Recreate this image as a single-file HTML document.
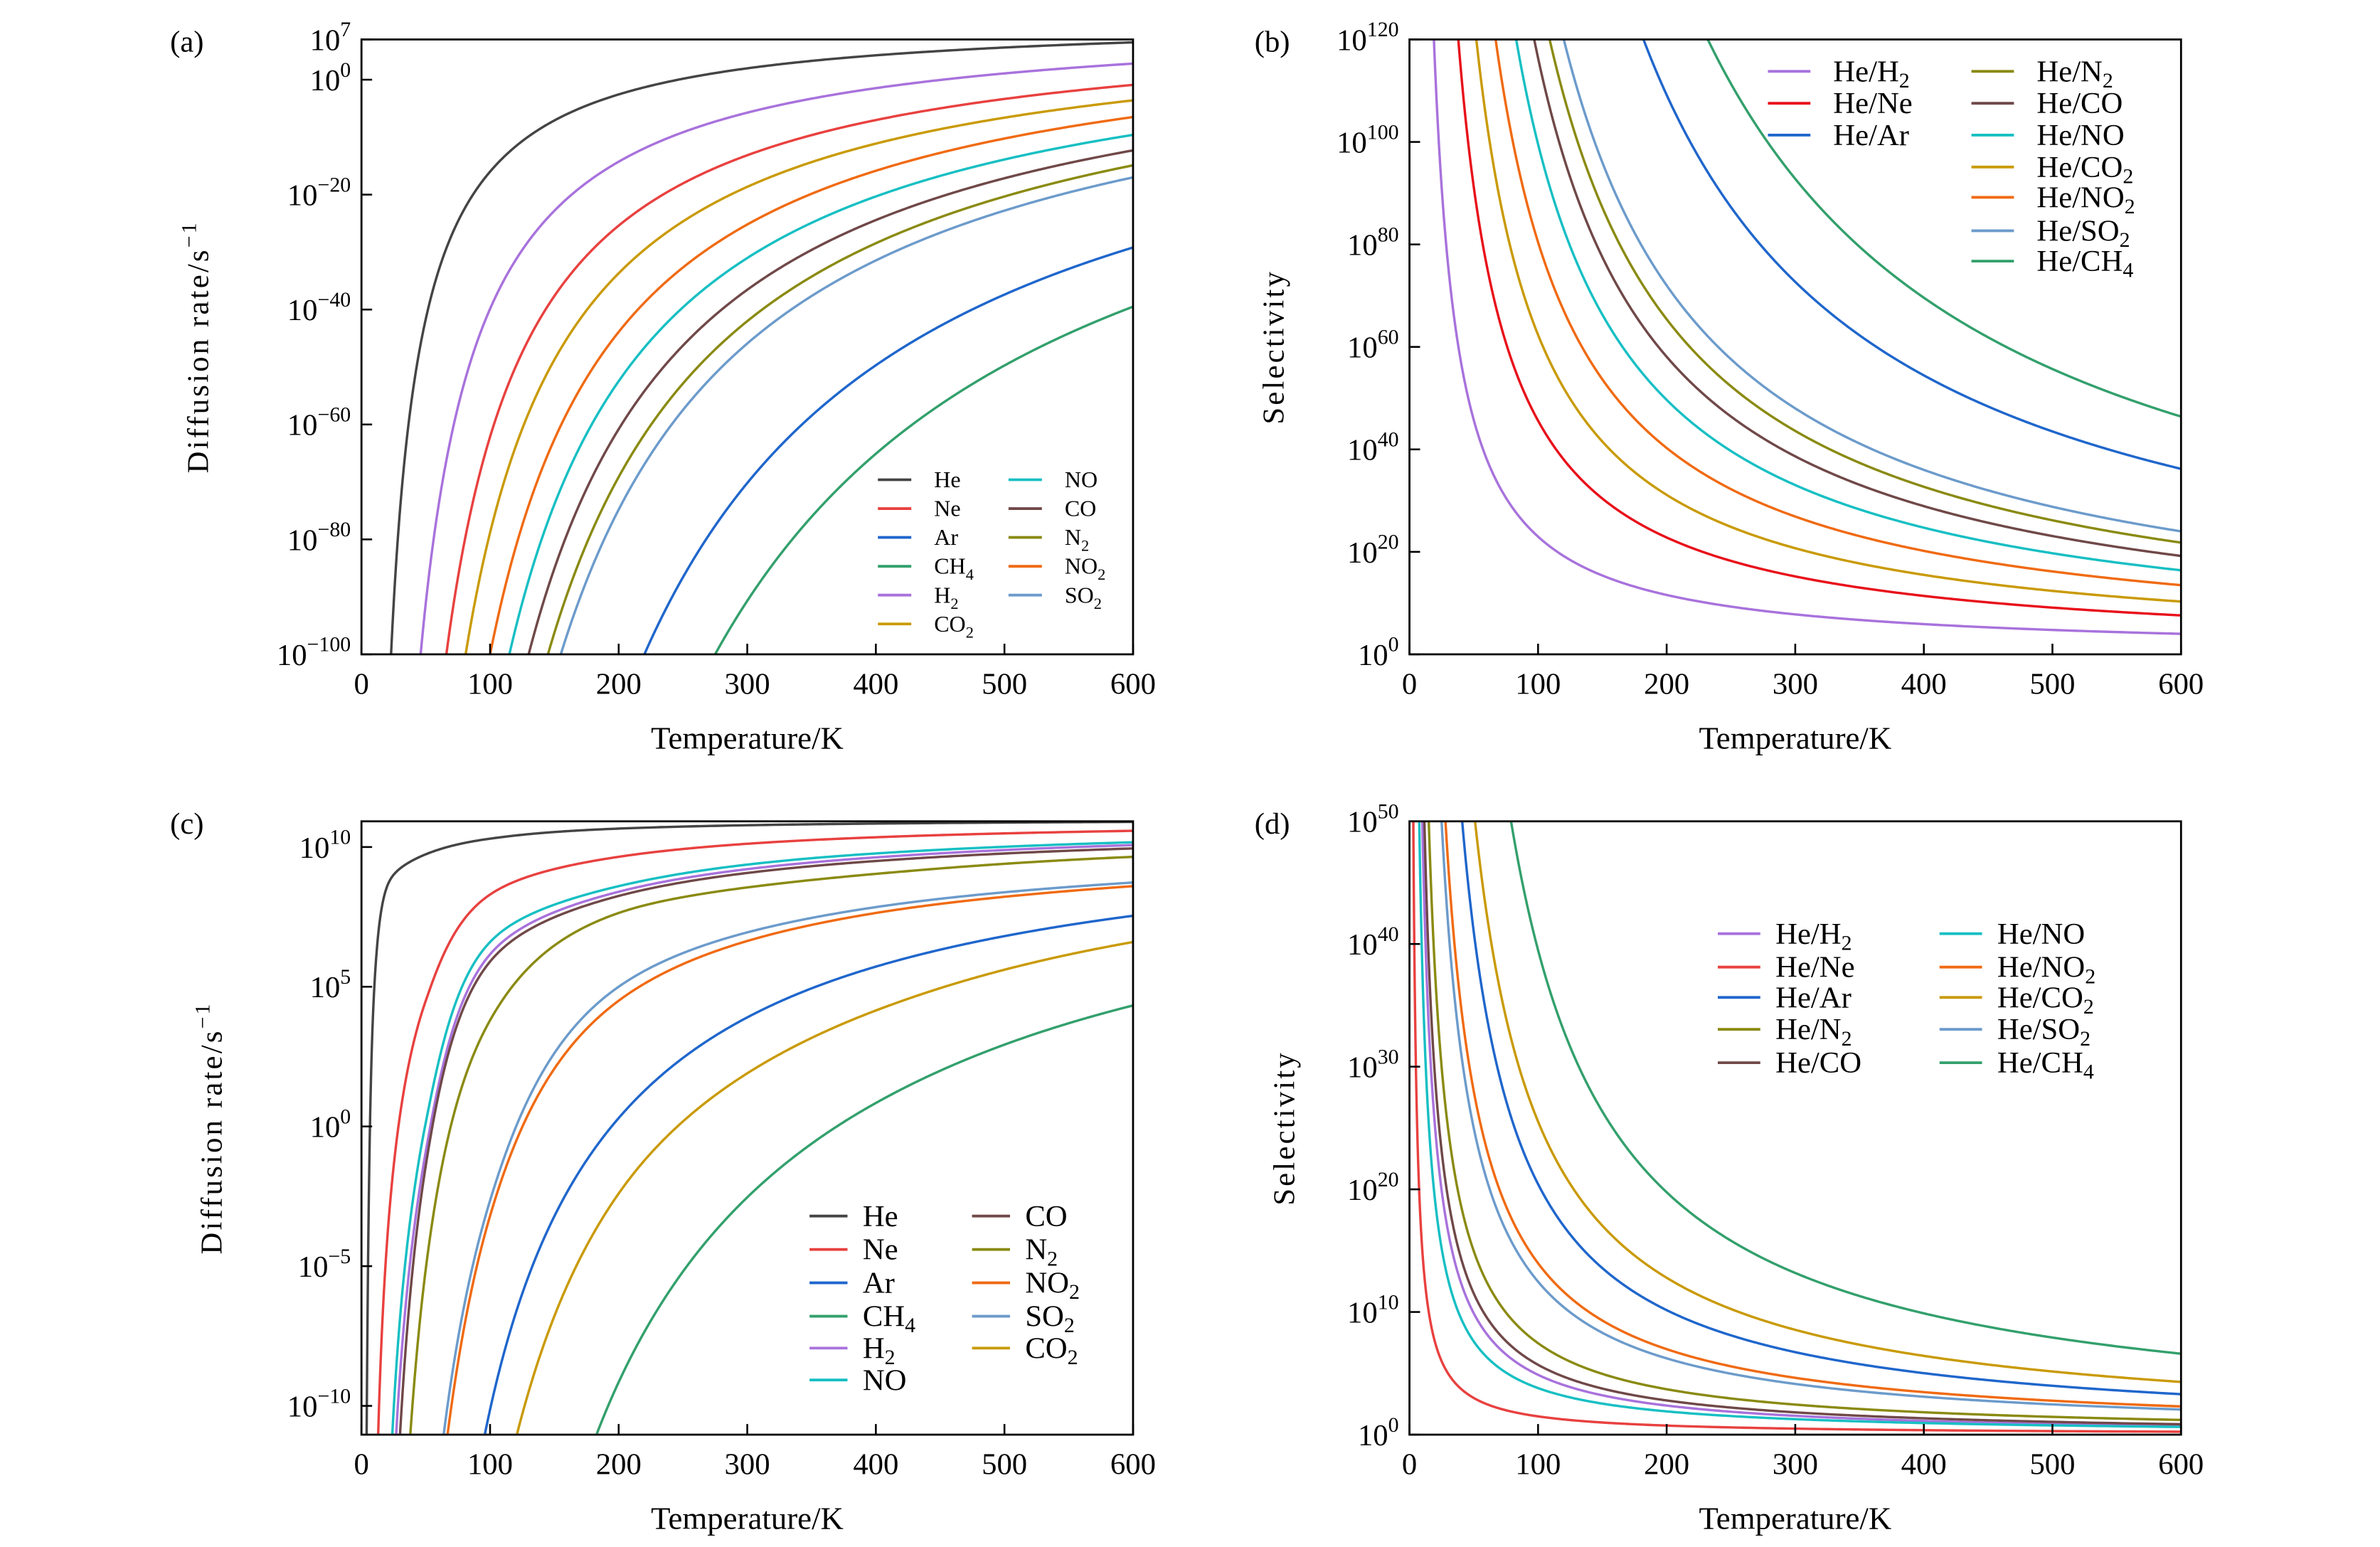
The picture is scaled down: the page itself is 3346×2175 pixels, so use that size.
<!DOCTYPE html>
<html><head><meta charset="utf-8">
<style>
html,body{margin:0;padding:0;background:#fff;}
svg{display:block;}
text{font-family:"Liberation Serif","DejaVu Serif",serif;fill:#000;}
</style></head>
<body>
<svg id="fig" width="3346" height="2175" viewBox="0 0 1567 1019" preserveAspectRatio="none" xmlns="http://www.w3.org/2000/svg"></svg>
<script>
// ---------- data ----------
const colHe="#444444",colNe="#e8413f",colAr="#1f66cc",colCH4="#33a06c",colH2="#a872dc",colCO2="#c99a06",colNO="#17bfc3",colCO="#704848",colN2="#8a8a12",colNO2="#f06a12",colSO2="#6c9bcb";

// Panel (a): diffusion rate, log10 values
const aNames=["He","H2","Ne","CO2","NO2","NO","CO","N2","SO2","Ar","CH4"];
const aColors=[colHe,colH2,colNe,colCO2,colNO2,colNO,colCO,colN2,colSO2,colAr,colCH4];
const aT=[[23,100,600],[46,600],[66,600],[81,600],[100,600],[115,600],[130,600],[145,600],[155,600],[220,600],[275,600]];
const aLog=[[-100,-16,6.5],[-100,2.8],[-100,-0.9],[-100,-3.6],[-100,-6.5],[-100,-9.6],[-100,-12.3],[-100,-14.9],[-100,-17],[-100,-29.2],[-100,-39.5]];

// Panel (b): selectivity
const bNames=["He/H2","He/Ne","He/CO2","He/NO2","He/NO","He/CO","He/N2","He/SO2","He/Ar","He/CH4"];
const bColors=[colH2,"#e8101a",colCO2,colNO2,colNO,colCO,colN2,colSO2,colAr,colCH4];
const bT=[[19,600],[38,600],[52,600],[67,600],[83,600],[97,600],[109,600],[120,600],[182,600],[232,600]];
const bLog=[[120,4.0],[120,7.6],[120,10.3],[120,13.5],[120,16.4],[120,19.2],[120,21.8],[120,24.0],[120,36.2],[120,46.4]];

// Panel (c): diffusion rate (second model)
const cNames=["He","Ne","NO","H2","CO","N2","SO2","NO2","Ar","CO2","CH4"];
const cColors=[colHe,colNe,colNO,colH2,colCO,colN2,colSO2,colNO2,colAr,colCO2,colCH4];
const cT=[[4,10,20,50,100,200,400,600],[13,50,100,200,400,600],[24,50,100,200,400,600],[27,50,100,200,400,600],[30,50,100,200,400,600],[38,50,100,200,400,600],[64,100,200,400,600],[67,100,200,400,600],[96,200,400,600],[121,200,400,600],[183,400,600]];
const cLog=[[-11,5.0,8.6,9.74,10.3,10.66,10.84,10.9],[-11,4.5,8.3,9.65,10.35,10.58],[-11,0.14,6.6,8.6,9.77,10.17],[-11,-0.9,6.16,8.4,9.63,10.07],[-11,-1.4,5.9,8.25,9.5,9.95],[-11,-5.1,3.8,7.64,9.04,9.65],[-11,-2.65,5.0,7.85,8.73],[-11,-3.2,4.5,7.64,8.6],[-11,0.3,5.72,7.54],[-11,-2.4,4.15,6.6],[-11,0.84,4.33]];

// Panel (d): selectivity (second model)
const dNames=["He/H2","He/Ne","He/Ar","He/N2","He/CO","He/NO","He/NO2","He/CO2","He/SO2","He/CH4"];
const dColors=[colH2,colNe,colAr,colN2,colCO,colNO,colNO2,colCO2,colSO2,colCH4];
const dT=[[10,600],[3,600],[41,600],[15,600],[11.6,600],[7.6,600],[28,600],[51,600],[25,600],[79,600]];
const dLog=[[50,0.7],[50,0.24],[50,3.3],[50,1.2],[50,0.85],[50,0.63],[50,2.3],[50,4.3],[50,2.05],[50,6.6]];

const xTicks=[0,100,200,300,400,500,600];
const aYTicks=[7,0,-20,-40,-60,-80,-100];
const bYTicks=[0,20,40,60,80,100,120];
const cYTicks=[10,5,0,-5,-10];
const dYTicks=[0,10,20,30,40,50];

// ---------- drawing ----------
const NS="http://www.w3.org/2000/svg";
const svg=document.getElementById("fig");
function mk(tag,attrs,parent){const e=document.createElementNS(NS,tag);for(const k in attrs)e.setAttribute(k,attrs[k]);(parent||svg).appendChild(e);return e;}

function addRich(t,str,subSize){
  let buf="";
  const flush=()=>{if(buf){const s=mk("tspan",{},t);s.textContent=buf;buf="";}};
  for(let i=0;i<str.length;i++){const c=str[i];
    if(/[0-9]/.test(c)){flush();const s=mk("tspan",{"font-size":subSize,"dy":4},t);s.textContent=c;const r=mk("tspan",{"dy":-4},t);r.textContent="";}
    else buf+=c;}
  flush();
}

// monotone cubic interpolation in u = 1/T space
function makeInterp(ts,ls){
  const pts=ts.map((t,i)=>[1/t,ls[i]]).sort((a,b)=>a[0]-b[0]);
  const n=pts.length,xs=pts.map(p=>p[0]),ys=pts.map(p=>p[1]);
  if(n===2){return u=>ys[0]+(ys[1]-ys[0])*(u-xs[0])/(xs[1]-xs[0]);}
  const d=[],m=new Array(n);
  for(let i=0;i<n-1;i++)d.push((ys[i+1]-ys[i])/(xs[i+1]-xs[i]));
  m[0]=d[0];m[n-1]=d[n-2];
  for(let i=1;i<n-1;i++){
    if(d[i-1]*d[i]<=0)m[i]=0;
    else{const h0=xs[i]-xs[i-1],h1=xs[i+1]-xs[i];const w1=2*h1+h0,w2=h1+2*h0;m[i]=(w1+w2)/(w1/d[i-1]+w2/d[i]);}
  }
  return u=>{
    let k=0;while(k<n-2&&u>xs[k+1])k++;
    const h=xs[k+1]-xs[k],s=(u-xs[k])/h;
    const h00=2*s*s*s-3*s*s+1,h10=s*s*s-2*s*s+s,h01=-2*s*s*s+3*s*s,h11=s*s*s-s*s;
    return h00*ys[k]+h10*h*m[k]+h01*ys[k+1]+h11*h*m[k+1];
  };
}

function panel(p){
  const g=mk("g",{});
  
  
  const X=t=>p.x0+(t-0)/600*(p.x1-p.x0);
  const Y=v=>p.y1-(v-p.ymin)/(p.ymax-p.ymin)*(p.y1-p.y0);
  const cid="clip-"+p.id;
  const cp=mk("clipPath",{id:cid},g);mk("rect",{x:p.x0,y:p.y0,width:p.x1-p.x0,height:p.y1-p.y0},cp);
  const sg=mk("g",{"clip-path":"url(#"+cid+")"},g);
  p.T.forEach((ts,i)=>{
    const ls=p.L[i];
    const f=makeInterp(ts,ls);
    const tmin=Math.min(...ts),tmax=Math.max(...ts);
    const N=500;let d="";
    for(let j=0;j<=N;j++){
      const t=tmin*Math.pow(tmax/tmin,j/N);
      const v=f(1/t);
      d+=(d?"L":"M")+X(t).toFixed(2)+","+Y(v).toFixed(2);
    }
    const path=mk("path",{d:d,fill:"none",stroke:p.colors[i],"stroke-width":1.6,"stroke-linejoin":"round"},sg);
    
    
  });
  const fr=mk("rect",{x:p.x0,y:p.y0,width:p.x1-p.x0,height:p.y1-p.y0,fill:"none",stroke:"#000","stroke-width":1.3},g);
  
  
  xTicks.forEach(t=>{
    mk("line",{x1:X(t),x2:X(t),y1:p.y1,y2:p.y1-7,stroke:"#000","stroke-width":1.2},g);
    const tx=mk("text",{x:X(t),y:p.y1+26,"text-anchor":"middle","font-size":20},g);
    tx.textContent=t;
    
    
  });
  p.yTicks.forEach(v=>{
    mk("line",{x1:p.x0,x2:p.x0+7,y1:Y(v),y2:Y(v),stroke:"#000","stroke-width":1.2},g);
    const tx=mk("text",{x:p.x0-7,y:Y(v)+7,"text-anchor":"end","font-size":20},g);
    const a=mk("tspan",{},tx);a.textContent="10";
    const b=mk("tspan",{"font-size":14,"dy":-9},tx);b.textContent=(v<0?"\u2212"+(-v):String(v));
    
    
  });
  const xt=mk("text",{x:(p.x0+p.x1)/2,y:p.y1+62,"text-anchor":"middle","font-size":21},g);
  xt.textContent="Temperature/K";
  
  
  const yx=p.ytx,yy=(p.y0+p.y1)/2;
  const yt=mk("text",{x:yx,y:yy,"text-anchor":"middle","font-size":20,"letter-spacing":"1.5",transform:"rotate(-90 "+yx+" "+yy+")"},g);
  if(p.ytitle==="rate"){const a=mk("tspan",{},yt);a.textContent="Diffusion rate/s";const b=mk("tspan",{"font-size":14,"dy":-8},yt);b.textContent="\u22121";}
  else yt.textContent="Selectivity";
  
  
  const pl=mk("text",{x:p.lx,y:p.y0+8,"font-size":20},g);
  pl.textContent="("+p.id+")";
  
  
  const lg=mk("g",{},g);
  
  
  p.leg.forEach(e=>{
    const i=p.names.indexOf(e[0]);
    mk("line",{x1:e[1],x2:e[1]+p.lw,y1:e[2],y2:e[2],stroke:p.colors[i],"stroke-width":1.8},lg);
    const t=mk("text",{x:e[1]+p.lw+p.gap,y:e[2]+p.fs*0.33,"font-size":p.fs},lg);
    addRich(t,e[0],p.fs*0.7);
    
    
  });
}

const aRows=[316,335,354,373,392,411];
panel({id:"a",x0:238,x1:746,y0:26,y1:431,ymin:-100,ymax:7,T:aT,L:aLog,names:aNames,colors:aColors,yTicks:aYTicks,ytitle:"rate",ytx:137,lx:112,fs:15,lw:22,gap:15,
  leg:[["He",578,aRows[0]],["Ne",578,aRows[1]],["Ar",578,aRows[2]],["CH4",578,aRows[3]],["H2",578,aRows[4]],["CO2",578,aRows[5]],
       ["NO",664,aRows[0]],["CO",664,aRows[1]],["N2",664,aRows[2]],["NO2",664,aRows[3]],["SO2",664,aRows[4]]]});
const bRows=[47,68,89,110,130,152,172];
panel({id:"b",x0:928,x1:1436,y0:26,y1:431,ymin:0,ymax:120,T:bT,L:bLog,names:bNames,colors:bColors,yTicks:bYTicks,ytitle:"sel",ytx:845,lx:826,fs:20,lw:28,gap:15,
  leg:[["He/H2",1164,bRows[0]],["He/Ne",1164,bRows[1]],["He/Ar",1164,bRows[2]],
       ["He/N2",1298,bRows[0]],["He/CO",1298,bRows[1]],["He/NO",1298,bRows[2]],["He/CO2",1298,bRows[3]],["He/NO2",1298,bRows[4]],["He/SO2",1298,bRows[5]],["He/CH4",1298,bRows[6]]]});
const cRows=[801,823,845,867,888,909];
panel({id:"c",x0:238,x1:746,y0:541,y1:945,ymin:-11.03,ymax:10.92,T:cT,L:cLog,names:cNames,colors:cColors,yTicks:cYTicks,ytitle:"rate",ytx:146,lx:112,fs:20,lw:25,gap:10,
  leg:[["He",533,cRows[0]],["Ne",533,cRows[1]],["Ar",533,cRows[2]],["CH4",533,cRows[3]],["H2",533,cRows[4]],["NO",533,cRows[5]],
       ["CO",640,cRows[0]],["N2",640,cRows[1]],["NO2",640,cRows[2]],["SO2",640,cRows[3]],["CO2",640,cRows[4]]]});
const dRows=[615,637,657,678,700];
panel({id:"d",x0:928,x1:1436,y0:541,y1:945,ymin:0,ymax:50,T:dT,L:dLog,names:dNames,colors:dColors,yTicks:dYTicks,ytitle:"sel",ytx:852,lx:826,fs:20,lw:28,gap:10,
  leg:[["He/H2",1131,dRows[0]],["He/Ne",1131,dRows[1]],["He/Ar",1131,dRows[2]],["He/N2",1131,dRows[3]],["He/CO",1131,dRows[4]],
       ["He/NO",1277,dRows[0]],["He/NO2",1277,dRows[1]],["He/CO2",1277,dRows[2]],["He/SO2",1277,dRows[3]],["He/CH4",1277,dRows[4]]]});
</script>
</body></html>
